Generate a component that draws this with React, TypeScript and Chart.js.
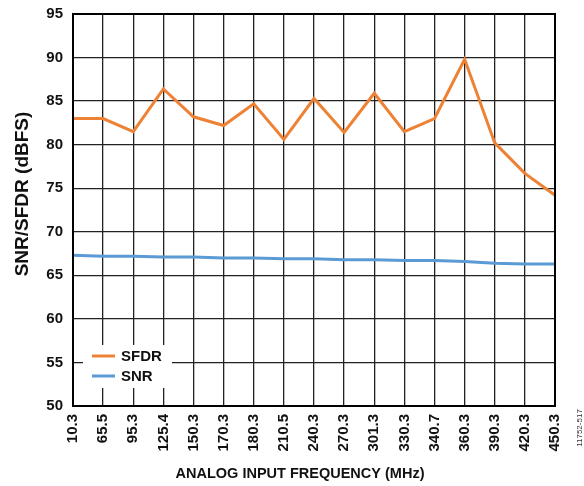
import React, { useEffect, useRef } from "react";
import { Chart, registerables } from "chart.js";

Chart.register(...registerables);

const categories = ["10.3", "65.5", "95.3", "125.4", "150.3", "170.3", "180.3", "210.5", "240.3", "270.3", "301.3", "330.3", "340.7", "360.3", "390.3", "420.3", "450.3"];
const sfdrValues = [83.0, 83.0, 81.5, 86.4, 83.2, 82.2, 84.7, 80.6, 85.3, 81.4, 85.9, 81.5, 83.0, 89.8, 80.2, 76.7, 74.2];
const snrValues = [67.3, 67.2, 67.2, 67.1, 67.1, 67.0, 67.0, 66.9, 66.9, 66.8, 66.8, 66.7, 66.7, 66.6, 66.4, 66.3, 66.3];
const yMin = 50;
const yMax = 95;
const yStep = 5;
const xTitle = "ANALOG INPUT FREQUENCY (MHz)";
const yTitle = "SNR/SFDR (dBFS)";
const figId = "11752-517";

const ORANGE = "rgb(238,130,52)";
const BLUE = "rgb(91,155,213)";
const FONT = "'Liberation Sans', Arial, sans-serif";

const decorPlugin = {
  id: "decor",
  afterDatasetsDraw(chart: any) {
    const ctx = chart.ctx;
    const a = chart.chartArea;
    ctx.save();
    ctx.strokeStyle = "#000";
    ctx.lineWidth = 2;
    ctx.strokeRect(a.left, a.top, a.right - a.left, a.bottom - a.top);
    ctx.fillStyle = "#fff";
    ctx.fillRect(83, 345, 89, 43);
    const items = [
      { label: "SFDR", color: ORANGE, y: 356 },
      { label: "SNR", color: BLUE, y: 376 },
    ];
    ctx.font = `bold 15px ${FONT}`;
    ctx.textBaseline = "middle";
    ctx.textAlign = "left";
    for (const it of items) {
      ctx.strokeStyle = it.color;
      ctx.lineWidth = 3;
      ctx.beginPath();
      ctx.moveTo(92, it.y);
      ctx.lineTo(115, it.y);
      ctx.stroke();
      ctx.fillStyle = "#111";
      ctx.fillText(it.label, 121, it.y + 1);
    }
    ctx.fillStyle = "#111";
    ctx.font = `bold 14.5px ${FONT}`;
    ctx.textAlign = "center";
    ctx.fillText(xTitle, 300, 474);
    ctx.save();
    ctx.font = `bold 19px ${FONT}`;
    ctx.translate(22, 194);
    ctx.rotate(-Math.PI / 2);
    ctx.fillText(yTitle, 0, 1);
    ctx.restore();
    ctx.save();
    ctx.font = `8px ${FONT}`;
    ctx.fillStyle = "#333";
    ctx.translate(580, 428);
    ctx.rotate(-Math.PI / 2);
    ctx.fillText(figId, 0, 0);
    ctx.restore();
    ctx.restore();
  },
};

export default function App() {
  const ref = useRef<HTMLCanvasElement | null>(null);
  useEffect(() => {
    if (!ref.current) return;
    const chart = new Chart(ref.current, {
      type: "line",
      data: {
        labels: categories,
        datasets: [
          { label: "SFDR", data: sfdrValues, borderColor: ORANGE, borderWidth: 3, pointRadius: 0, tension: 0, fill: false },
          { label: "SNR", data: snrValues, borderColor: BLUE, borderWidth: 3, pointRadius: 0, tension: 0, fill: false },
        ],
      },
      options: {
        responsive: false,
        animation: false,
        layout: { padding: { left: 0, top: 14, right: 29, bottom: 0 } },
        plugins: { legend: { display: false }, tooltip: { enabled: false } },
        scales: {
          x: {
            offset: false,
            grid: { color: "#222", lineWidth: 1.3, drawTicks: false },
            border: { color: "#000", width: 2 },
            ticks: {
              autoSkip: false,
              minRotation: 90,
              maxRotation: 90,
              padding: 8,
              color: "#111",
              font: { family: FONT, weight: "bold", size: 15 },
            },
            afterFit(scale: any) {
              scale.height = 80;
              scale.paddingLeft = 0;
              scale.paddingRight = 0;
            },
          },
          y: {
            min: yMin,
            max: yMax,
            grid: { color: "#222", lineWidth: 1.3, drawTicks: false },
            border: { color: "#000", width: 2 },
            ticks: {
              stepSize: yStep,
              padding: 10,
              color: "#111",
              font: { family: FONT, weight: "bold", size: 15 },
            },
            afterFit(scale: any) {
              scale.width = 73;
              scale.paddingTop = 0;
              scale.paddingBottom = 0;
            },
          },
        },
      },
      plugins: [decorPlugin],
    });
    return () => chart.destroy();
  }, []);
  return (
    <div style={{ position: "absolute", left: 0, top: 0, width: 584, height: 486, background: "#fff" }}>
      <canvas ref={ref} width={584} height={486} style={{ display: "block" }} />
    </div>
  );
}
